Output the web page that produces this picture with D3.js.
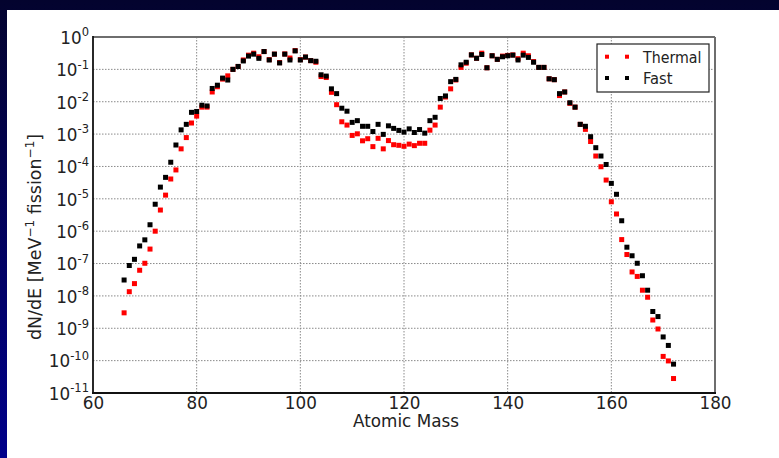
<!DOCTYPE html>
<html>
<head>
<meta charset="utf-8">
<script src="https://cdn.jsdelivr.net/npm/d3@7"></script>
<style>
  html, body { margin: 0; padding: 0; background: #fff; }
  svg { display: block; font-family: "DejaVu Sans", sans-serif; }
</style>
</head>
<body>
<svg id="chart" width="779" height="458"></svg>
<script>
// Fission fragment yields per mass number, thermal vs fast neutron induced
const massNumbers = d3.range(66, 173);

const thermal = [
  3.0e-9, 1.35e-8, 2.4e-8, 6.2e-8, 1.02e-7, 2.8e-7, 1.0e-6, 4.5e-6, 1.3e-5, 4.1e-5,   // 66-75
  7.8e-5, 3.5e-4, 7.8e-4, 2.2e-3, 3.6e-3, 6.8e-3, 6.8e-3, 2.0e-2, 2.9e-2, 5.0e-2,     // 76-85
  6.3e-2, 0.100, 0.123, 0.195, 0.275, 0.316, 0.245, 0.355, 0.200, 0.295,              // 86-95
  0.162, 0.300, 0.224, 0.380, 0.200, 0.240, 0.186, 0.166, 0.060, 0.056,               // 96-105
  1.95e-2, 8.1e-3, 2.4e-3, 1.9e-3, 9.1e-4, 1.02e-3, 6.2e-4, 7.2e-4, 4.1e-4, 7.4e-4,  // 106-115
  3.5e-4, 6.3e-4, 4.7e-4, 4.5e-4, 4.2e-4, 4.9e-4, 4.4e-4, 5.2e-4, 5.2e-4, 1.32e-3,   // 116-125
  1.9e-3, 6.8e-3, 1.4e-2, 2.5e-2, 4.7e-2, 0.115, 0.155, 0.280, 0.220, 0.316,          // 126-135
  0.112, 0.263, 0.204, 0.257, 0.270, 0.280, 0.214, 0.316, 0.263, 0.174,               // 136-145
  0.115, 0.115, 0.051, 0.048, 1.55e-2, 2.0e-2, 8.9e-3, 6.8e-3, 2.0e-3, 1.4e-3,        // 146-155
  5.9e-4, 2.1e-4, 9.8e-5, 3.8e-5, 8.1e-6, 3.4e-6, 5.5e-7, 1.9e-7, 5.5e-8, 4.0e-8,    // 156-165
  1.5e-8, 9.1e-9, 1.8e-9, 9.5e-10, 1.35e-10, 9.8e-11, 2.8e-11                         // 166-172
];

const fast = [
  3.1e-8, 8.7e-8, 1.35e-7, 3.5e-7, 5.4e-7, 1.58e-6, 6.8e-6, 2.3e-5, 4.6e-5, 1.35e-4,  // 66-75
  4.6e-4, 1.35e-3, 2.0e-3, 4.7e-3, 5.0e-3, 7.8e-3, 7.4e-3, 2.57e-2, 3.24e-2, 5.37e-2, // 76-85
  4.68e-2, 0.100, 0.123, 0.182, 0.257, 0.295, 0.219, 0.355, 0.195, 0.295,             // 86-95
  0.158, 0.295, 0.195, 0.372, 0.195, 0.240, 0.186, 0.178, 0.068, 0.062,               // 96-105
  2.5e-2, 1.78e-2, 6.3e-3, 5.1e-3, 2.3e-3, 2.6e-3, 1.74e-3, 1.74e-3, 1.2e-3, 2.0e-3,  // 106-115
  9.8e-4, 1.8e-3, 1.5e-3, 1.3e-3, 1.15e-3, 1.45e-3, 1.12e-3, 1.38e-3, 1.07e-3, 2.6e-3,// 116-125
  3.3e-3, 1.26e-2, 1.51e-2, 4.17e-2, 4.9e-2, 0.138, 0.166, 0.280, 0.220, 0.288,       // 126-135
  0.112, 0.263, 0.204, 0.245, 0.263, 0.275, 0.195, 0.275, 0.234, 0.166,               // 136-145
  0.115, 0.115, 0.051, 0.048, 1.78e-2, 2.0e-2, 9.3e-3, 6.8e-3, 2.0e-3, 1.74e-3,       // 146-155
  8.3e-4, 3.8e-4, 2.1e-4, 1.15e-4, 3.0e-5, 1.38e-5, 2.1e-6, 3.2e-7, 1.74e-7, 1.02e-7, // 156-165
  4.2e-8, 1.5e-8, 3.3e-9, 2.3e-9, 5.4e-10, 2.95e-10, 7.8e-11                          // 166-172
];

const xTicks = [60, 80, 100, 120, 140, 160, 180];
const yExponents = [0, -1, -2, -3, -4, -5, -6, -7, -8, -9, -10, -11];
const seriesNames = ["Thermal", "Fast"];
const seriesColors = ["#ff0000", "#000000"];

const FS = 16.8;      // tick and axis label size
const SUP = 11.5;     // superscript size

const svg = d3.select("#chart");

// slide frame: dark gradient behind a white panel
const defs = svg.append("defs");
const grad = defs.append("linearGradient").attr("id", "frame")
  .attr("x1", 0).attr("y1", 0).attr("x2", 0).attr("y2", 1);
grad.append("stop").attr("offset", "0%").attr("stop-color", "#03032e");
grad.append("stop").attr("offset", "100%").attr("stop-color", "#00008a");
svg.append("rect").attr("width", 779).attr("height", 458).attr("fill", "url(#frame)");
svg.append("rect").attr("x", 7).attr("y", 10).attr("width", 772).attr("height", 448).attr("fill", "#fff");

const plot = { left: 93, right: 715, top: 37, bottom: 393 };

const x = d3.scaleLinear().domain([60, 180]).range([plot.left, plot.right]);
const y = d3.scaleLog().domain([1e-11, 1]).range([plot.bottom, plot.top]);

// grid
const grid = svg.append("g").attr("stroke", "#8a8a8a").attr("stroke-width", 1)
  .attr("stroke-dasharray", "1.5,1.5");
xTicks.filter(t => t > 60 && t < 180).forEach(t => {
  grid.append("line").attr("x1", x(t)).attr("x2", x(t))
    .attr("y1", plot.top).attr("y2", plot.bottom);
});
yExponents.filter(e => e < 0 && e > -11).forEach(e => {
  grid.append("line").attr("x1", plot.left).attr("x2", plot.right)
    .attr("y1", y(Math.pow(10, e))).attr("y2", y(Math.pow(10, e)));
});

// x axis
const xAxis = svg.append("g")
  .attr("transform", `translate(0,${plot.bottom})`)
  .call(d3.axisBottom(x).tickValues(xTicks).tickSize(0).tickPadding(4).tickFormat(d3.format("d")));
xAxis.select(".domain").remove();
xAxis.selectAll("text").attr("font-size", FS).attr("fill", "#222")
  .attr("font-family", "DejaVu Sans, sans-serif").attr("dy", "0.74em");

// y axis: positions from the axis, labels as 10 with superscript exponent
const yAxis = svg.append("g")
  .attr("transform", `translate(${plot.left},0)`)
  .call(d3.axisLeft(y).tickValues(yExponents.map(e => Math.pow(10, e))).tickSize(0).tickFormat(""));
yAxis.select(".domain").remove();
yAxis.selectAll(".tick").each(function(d) {
  const e = Math.round(Math.log10(d));
  const t = d3.select(this).append("text")
    .attr("x", -4).attr("y", 6.3)
    .attr("text-anchor", "end")
    .attr("fill", "#222")
    .attr("font-family", "DejaVu Sans, sans-serif")
    .attr("font-size", FS);
  t.append("tspan").text("10");
  t.append("tspan").attr("font-size", SUP).attr("dy", -7.5)
    .text(e === 0 ? "0" : "-" + Math.abs(e));
});

// spines
svg.append("line").attr("x1", plot.left).attr("x2", plot.right).attr("y1", plot.top).attr("y2", plot.top)
  .attr("stroke", "#6e6e6e").attr("stroke-width", 2);
svg.append("line").attr("x1", plot.right).attr("x2", plot.right).attr("y1", plot.top).attr("y2", plot.bottom)
  .attr("stroke", "#6e6e6e").attr("stroke-width", 2);
svg.append("line").attr("x1", plot.left).attr("x2", plot.left).attr("y1", plot.top - 1).attr("y2", plot.bottom + 1)
  .attr("stroke", "#111").attr("stroke-width", 1.8);
svg.append("line").attr("x1", plot.left - 1).attr("x2", plot.right + 1).attr("y1", plot.bottom).attr("y2", plot.bottom)
  .attr("stroke", "#111").attr("stroke-width", 1.8);

// markers
const ms = 5;
[thermal, fast].forEach((vals, i) => {
  svg.append("g").selectAll("rect")
    .data(vals.map((v, k) => ({ a: massNumbers[k], v })))
    .join("rect")
    .attr("x", d => x(d.a) - ms / 2)
    .attr("y", d => y(d.v) - ms / 2)
    .attr("width", ms).attr("height", ms)
    .attr("fill", seriesColors[i]);
});

// axis titles
svg.append("text").attr("x", 406).attr("y", 427)
  .attr("text-anchor", "middle").attr("font-size", FS).attr("fill", "#222")
  .text("Atomic Mass");

const yl = svg.append("text")
  .attr("transform", "translate(41,237) rotate(-90)")
  .attr("text-anchor", "middle").attr("font-size", 17.5).attr("fill", "#222");
yl.append("tspan").text("dN/dE [MeV");
yl.append("tspan").attr("font-size", 12).attr("dy", -7.5).text("\u22121");
yl.append("tspan").attr("dy", 7.5).text(" fission");
yl.append("tspan").attr("font-size", 12).attr("dy", -7.5).text("\u22121");
yl.append("tspan").attr("dy", 7.5).text("]");

// legend
const lg = svg.append("g");
lg.append("rect").attr("x", 597).attr("y", 44).attr("width", 112).attr("height", 48)
  .attr("fill", "#fff").attr("stroke", "#222").attr("stroke-width", 1.2);
seriesNames.forEach((name, i) => {
  const cy = 56.7 + i * 21.3;
  [607, 627].forEach(cx => {
    lg.append("rect").attr("x", cx - 2).attr("y", cy - 2).attr("width", 4).attr("height", 4)
      .attr("fill", seriesColors[i]);
  });
  lg.append("text").attr("x", 643).attr("y", cy + 5.8).attr("font-size", 16).attr("fill", "#222")
    .attr("textLength", name === "Thermal" ? 58.5 : 29.5).attr("lengthAdjust", "spacingAndGlyphs")
    .text(name);
});
</script>
</body>
</html>
